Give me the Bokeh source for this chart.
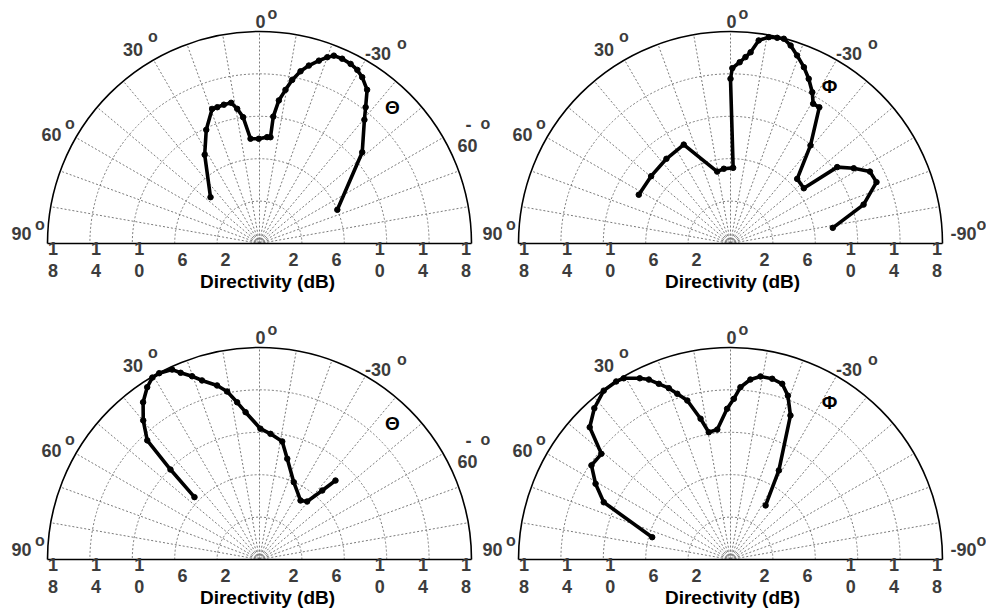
import numpy as np
from bokeh.plotting import figure
from bokeh.models import Range1d
from bokeh.core.properties import value
from bokeh.embed import file_html
from bokeh.resources import INLINE

# ---------------- data (angle in degrees, positive to the left; radius as fraction of outer ring) ----
tl_theta = [46.6, 31.7, 25.1, 19.4, 17.2, 14.4, 11.4, 9.4, 7.4, 4.9, 0.4, -4.1, -5.9, -6.2, -7.7,
            -9.6, -11.3, -13.4, -15.5, -18.0, -20.0, -21.6, -24.1, -26.9, -29.4, -31.7, -35.0,
            -37.9, -40.3, -48.4, -66.6]
tl_r = [0.318, 0.492, 0.592, 0.673, 0.673, 0.676, 0.677, 0.644, 0.601, 0.496, 0.494, 0.503, 0.504,
        0.602, 0.681, 0.735, 0.787, 0.835, 0.871, 0.907, 0.935, 0.953, 0.955, 0.950, 0.940, 0.922,
        0.885, 0.815, 0.765, 0.648, 0.400]

tr_theta = [62.0, 49.7, 37.1, 25.3, 10.5, 5.1, -2.0, 0.0, -0.6, -2.9, -4.6, -6.0, -7.9, -10.5,
            -12.8, -14.6, -16.9, -19.5, -22.6, -25.4, -28.4, -30.6, -33.1, -39.2, -45.9, -53.0,
            -54.4, -58.6, -62.7, -67.2, -73.7, -81.3]
tr_r = [0.490, 0.491, 0.501, 0.516, 0.345, 0.354, 0.357, 0.777, 0.827, 0.856, 0.882, 0.907, 0.967,
        0.990, 0.995, 0.998, 0.976, 0.941, 0.901, 0.860, 0.811, 0.766, 0.767, 0.597, 0.438, 0.433,
        0.619, 0.681, 0.740, 0.747, 0.654, 0.488]

bl_theta = [46.2, 44.7, 43.3, 39.9, 36.5, 33.1, 30.5, 28.3, 24.7, 22.9, 20.2, 17.8, 13.7, 10.9, 8.1,
            5.4, -0.4, -5.0, -10.9, -15.4, -23.9, -34.8, -39.4, -42.3, -43.9]
bl_r = [0.425, 0.597, 0.772, 0.855, 0.923, 0.970, 0.996, 0.998, 0.986, 0.956, 0.921, 0.887, 0.845,
        0.807, 0.749, 0.698, 0.617, 0.595, 0.567, 0.493, 0.399, 0.339, 0.354, 0.440, 0.517]

br_theta = [74.1, 65.7, 60.7, 55.9, 50.7, 46.8, 42.0, 36.9, 32.7, 30.5, 26.6, 24.4, 22.2, 19.8,
            17.8, 15.2, 12.0, 9.7, 5.8, 1.3, -1.2, -3.3, -6.3, -9.3, -13.0, -16.4, -19.3, -22.6,
            -28.5, -33.0]
br_r = [0.384, 0.656, 0.730, 0.792, 0.787, 0.911, 0.960, 0.996, 0.998, 0.992, 0.956, 0.932, 0.895,
        0.859, 0.821, 0.777, 0.679, 0.609, 0.616, 0.711, 0.758, 0.814, 0.854, 0.875, 0.875, 0.864,
        0.819, 0.736, 0.478, 0.304]

radial_tick_labels = ["2", "6", "10", "14", "18"]
radial_tick_values = [2, 6, 10, 14, 18]
DB_CENTER, DB_RIM = -1.14, 18.5          # radial scale of the tick labels
grid_rings = [0.2, 0.4, 0.6, 0.8]
spoke_angles = list(range(-80, 90, 10))
axis_title = "Directivity (dB)"

# ---------------- layout ----------------
W, H = 986, 609
R = 212.0
panels = [
    dict(cx=259, cy=366, th=tl_theta, r=tl_r, sym="\u0398", kind="theta", tdx=8),
    dict(cx=730, cy=366, th=tr_theta, r=tr_r, sym="\u03A6", kind="phi", tdx=2),
    dict(cx=259, cy=50, th=bl_theta, r=bl_r, sym="\u0398", kind="theta", tdx=8),
    dict(cx=730, cy=50, th=br_theta, r=br_r, sym="\u03A6", kind="phi", tdx=2),
]

p = figure(width=W, height=H, x_range=Range1d(0, W), y_range=Range1d(0, H),
           toolbar_location=None, output_backend="svg", min_border=0)
p.axis.visible = False
p.grid.visible = False
p.outline_line_color = None
p.background_fill_color = "white"
p.border_fill_color = "white"

FONT = value("Liberation Sans")
GRAY = "#3c3c3c"

def pol(cx, cy, th_deg, rr):
    th = np.radians(np.asarray(th_deg, dtype=float))
    rr = np.asarray(rr, dtype=float) * R
    return cx - rr * np.sin(th), cy + rr * np.cos(th)

num_x, num_y, num_t = [], [], []
deg_x, deg_y = [], []
sym_x, sym_y, sym_t = [], [], []
tit_x, tit_y = [], []

for pn in panels:
    cx, cy = pn["cx"], pn["cy"]
    # dashed grid rings
    p.arc(x=[cx] * len(grid_rings), y=[cy] * len(grid_rings), radius=[g * R for g in grid_rings],
          start_angle=0, end_angle=np.pi, line_color="#7a7a7a", line_dash="2 2", line_width=1)
    p.arc(x=[cx] * 3, y=[cy] * 3, radius=[3, 5.5, 8], start_angle=0, end_angle=np.pi,
          line_color="#9a9a9a", line_dash="1 1", line_width=1)
    # spokes
    xs, ys = [], []
    for a in spoke_angles:
        ex, ey = pol(cx, cy, [a], [1.0])
        xs.append([cx, float(ex[0])])
        ys.append([cy, float(ey[0])])
    p.multi_line(xs=xs, ys=ys, line_color="#7a7a7a", line_dash="2 2", line_width=1)
    # outer semicircle and baseline
    p.arc(x=[cx], y=[cy], radius=[R], start_angle=0, end_angle=np.pi,
          line_color="black", line_width=1.6)
    p.line(x=[cx - R, cx + R], y=[cy, cy], line_color="black", line_width=1.6)

    # curve
    x, y = pol(cx, cy, pn["th"], pn["r"])
    p.line(x=x, y=y, line_color="black", line_width=3.6, line_join="round", line_cap="round")
    p.scatter(x=x, y=y, marker="circle", size=5.5, fill_color="black", line_color="black")

    # radial tick labels
    for lab, v in zip(radial_tick_labels, radial_tick_values):
        rr = (v - DB_CENTER) / (DB_RIM - DB_CENTER) * R
        for sgn in (-1, 1):
            xx = cx + sgn * rr
            if len(lab) == 2:
                num_x += [xx, xx]
                num_y += [cy - 5, cy - 27]
                num_t += [lab[0], lab[1]]
            else:
                num_x.append(xx)
                num_y.append(cy - 16)
                num_t.append(lab)
    tit_x.append(cx + pn["tdx"])
    tit_y.append(cy - 38)

    # angle labels
    ang = [("0", 1, 222, 13, 230), ("30", -126.5, 194, -106.5, 207),
           ("-30", 118.5, 190, 142.5, 200), ("60", -208, 109, -189.5, 120)]
    if pn["kind"] == "phi":
        ang += [("90", -238, 10, -219.5, 19), ("-90", 233, 10, 251, 19)]
    else:
        ang += [("90", -238, 10, -219.5, 19)]
    for t, dx, dy, ox, oy in ang:
        num_x.append(cx + dx); num_y.append(cy + dy); num_t.append(t)
        deg_x.append(cx + ox); deg_y.append(cy + oy)
    if pn["kind"] == "theta":
        num_x += [cx + 209, cx + 208]; num_y += [cy + 119, cy + 98]; num_t += ["-", "60"]
        deg_x.append(cx + 226); deg_y.append(cy + 120)
        sym_x.append(cx + 133); sym_y.append(cy + 136)
    else:
        sym_x.append(cx + 99); sym_y.append(cy + 157)
    sym_t.append(pn["sym"])

p.text(x=num_x, y=num_y, text=num_t, text_font=FONT, text_font_style="bold",
       text_font_size="18px", text_color=GRAY, text_align="center", text_baseline="middle")
p.text(x=deg_x, y=deg_y, text=["o"] * len(deg_x), text_font=FONT, text_font_style="bold",
       text_font_size="16px", text_color=GRAY, text_align="center", text_baseline="middle")
p.text(x=sym_x, y=sym_y, text=sym_t, text_font=FONT, text_font_style="bold",
       text_font_size="19px", text_color="black", text_align="center", text_baseline="middle")
p.text(x=tit_x, y=tit_y, text=[axis_title] * len(tit_x), text_font=FONT, text_font_style="bold",
       text_font_size="19px", text_color="black", text_align="center", text_baseline="middle")

open("out.html", "w").write(file_html(p, INLINE))
